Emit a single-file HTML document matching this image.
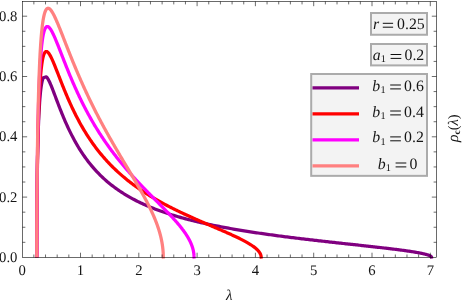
<!DOCTYPE html>
<html><head><meta charset="utf-8"><title>plot</title>
<style>
html,body{margin:0;padding:0;background:#fff;}
svg{display:block;font-family:"Liberation Serif",serif;text-rendering:geometricPrecision;will-change:transform;}
</style></head><body>
<svg width="463" height="303" viewBox="0 0 463 303">
<rect width="463" height="303" fill="#fff"/>
<defs><clipPath id="cp"><rect x="22.20" y="1.50" width="415.30" height="257.30"/></clipPath></defs>
<g clip-path="url(#cp)">
<polyline points="36.64,257.40 36.65,250.30 36.67,239.64 36.70,230.79 36.74,222.03 36.80,213.39 36.86,204.90 36.94,196.56 37.04,188.41 37.14,180.48 37.26,172.77 37.38,165.31 37.52,158.12 37.68,151.20 37.84,144.58 38.02,138.26 38.21,132.25 38.41,126.56 38.62,121.19 38.85,116.15 39.09,111.43 39.34,107.04 39.60,102.97 39.87,99.22 40.16,95.79 40.46,92.67 40.77,89.85 41.09,87.32 41.42,85.08 41.77,83.12 42.13,81.42 42.50,79.98 42.88,78.79 43.27,77.83 46.36,76.78 46.84,77.30 47.34,77.97 47.85,78.77 48.37,79.68 48.91,80.71 49.45,81.83 50.01,83.05 50.58,84.36 51.16,85.74 51.75,87.19 52.35,88.71 52.96,90.28 53.59,91.91 54.22,93.58 54.87,95.29 55.53,97.03 56.20,98.81 56.88,100.61 57.57,102.43 58.27,104.26 58.98,106.11 59.71,107.97 60.44,109.84 61.19,111.71 61.94,113.58 62.71,115.45 63.49,117.32 64.28,119.18 65.07,121.03 65.88,122.87 66.70,124.70 67.53,126.52 68.37,128.32 69.22,130.11 70.08,131.88 70.95,133.64 71.83,135.37 72.72,137.09 73.63,138.79 74.54,140.46 75.46,142.12 76.39,143.76 77.33,145.37 78.28,146.96 79.24,148.53 80.21,150.08 81.19,151.60 82.17,153.11 83.17,154.59 84.18,156.04 85.20,157.48 86.22,158.89 87.26,160.28 88.30,161.65 89.35,162.99 90.41,164.32 91.49,165.62 92.57,166.90 93.65,168.16 94.75,169.40 95.86,170.62 96.97,171.81 98.09,172.99 99.22,174.14 100.36,175.28 101.51,176.40 102.67,177.49 103.83,178.57 105.01,179.63 106.19,180.67 107.37,181.70 108.57,182.70 109.77,183.69 110.99,184.66 112.21,185.62 113.43,186.56 114.67,187.48 115.91,188.38 117.16,189.27 118.41,190.15 119.68,191.01 120.95,191.85 122.22,192.68 123.51,193.50 124.80,194.30 126.10,195.08 127.40,195.86 128.72,196.62 130.03,197.37 131.36,198.11 132.69,198.83 134.03,199.54 135.37,200.24 136.72,200.93 138.07,201.60 139.44,202.27 140.80,202.92 142.18,203.56 143.55,204.20 144.94,204.82 146.33,205.43 147.72,206.03 149.12,206.63 150.53,207.21 151.94,207.78 153.36,208.35 154.78,208.91 156.21,209.45 157.64,209.99 159.07,210.52 160.51,211.04 161.96,211.56 163.41,212.06 164.86,212.56 166.32,213.05 167.78,213.54 169.25,214.01 170.72,214.48 172.19,214.94 173.67,215.40 175.15,215.85 176.64,216.29 178.13,216.72 179.62,217.15 181.12,217.58 182.61,217.99 184.12,218.40 185.62,218.81 187.13,219.21 188.64,219.60 190.16,219.99 191.67,220.37 193.19,220.75 194.72,221.12 196.24,221.49 197.77,221.86 199.30,222.21 200.83,222.57 202.36,222.92 203.90,223.26 205.43,223.60 206.97,223.93 208.51,224.27 210.06,224.59 211.60,224.91 213.15,225.23 214.69,225.55 216.24,225.86 217.79,226.17 219.34,226.47 220.89,226.77 222.44,227.06 223.99,227.36 225.55,227.64 227.10,227.93 228.65,228.21 230.21,228.49 231.76,228.77 233.32,229.04 234.87,229.31 236.43,229.57 237.98,229.84 239.53,230.10 241.09,230.35 242.64,230.61 244.19,230.86 245.75,231.11 247.30,231.36 248.85,231.60 250.40,231.84 251.95,232.08 253.50,232.32 255.04,232.55 256.59,232.78 258.13,233.01 259.67,233.24 261.21,233.46 262.75,233.68 264.29,233.90 265.83,234.12 267.36,234.34 268.89,234.55 270.42,234.76 271.95,234.97 273.47,235.18 274.99,235.38 276.51,235.59 278.03,235.79 279.55,235.99 281.06,236.19 282.57,236.38 284.07,236.58 285.57,236.77 287.07,236.96 288.57,237.15 290.06,237.34 291.55,237.52 293.04,237.71 294.52,237.89 296.00,238.07 297.47,238.25 298.94,238.43 300.41,238.61 301.87,238.78 303.33,238.96 304.78,239.13 306.23,239.30 307.68,239.47 309.12,239.64 310.55,239.81 311.98,239.97 313.41,240.14 314.83,240.30 316.25,240.47 317.66,240.63 319.06,240.79 320.46,240.95 321.86,241.10 323.25,241.26 324.63,241.42 326.01,241.57 327.39,241.72 328.75,241.88 330.11,242.03 331.47,242.18 332.82,242.33 334.16,242.47 335.50,242.62 336.83,242.77 338.15,242.91 339.47,243.06 340.78,243.20 342.09,243.34 343.39,243.49 344.68,243.63 345.96,243.77 347.24,243.91 348.51,244.05 349.77,244.18 351.03,244.32 352.28,244.46 353.52,244.59 354.76,244.73 355.98,244.86 357.20,244.99 358.41,245.12 359.62,245.26 360.81,245.39 362.00,245.52 363.18,245.65 364.35,245.77 365.52,245.90 366.68,246.03 367.82,246.16 368.96,246.28 370.09,246.41 371.22,246.53 372.33,246.66 373.44,246.78 374.53,246.90 375.62,247.03 376.70,247.15 377.77,247.27 378.84,247.39 379.89,247.51 380.93,247.63 381.97,247.75 382.99,247.87 384.01,247.99 385.02,248.11 386.01,248.22 387.00,248.34 387.98,248.46 388.95,248.57 389.91,248.69 390.86,248.80 391.80,248.92 392.73,249.03 393.65,249.14 394.56,249.26 395.46,249.37 396.35,249.48 397.23,249.59 398.11,249.71 398.97,249.82 399.82,249.93 400.66,250.04 401.49,250.15 402.31,250.26 403.11,250.37 403.91,250.48 404.70,250.59 405.48,250.69 406.24,250.80 407.00,250.91 407.75,251.02 408.48,251.12 409.20,251.23 409.92,251.34 410.62,251.44 411.31,251.55 411.99,251.66 412.66,251.76 413.32,251.87 413.96,251.97 414.60,252.07 415.22,252.18 415.84,252.28 416.44,252.39 417.03,252.49 417.61,252.59 418.18,252.70 418.73,252.80 419.28,252.90 419.81,253.00 420.34,253.11 420.85,253.21 421.34,253.31 421.83,253.41 422.31,253.51 422.77,253.62 423.22,253.72 423.67,253.82 424.09,253.92 424.51,254.02 424.92,254.12 425.31,254.22 425.69,254.32 426.06,254.42 426.42,254.52 426.77,254.62 427.10,254.72 427.42,254.82 427.73,254.91 428.03,255.01 428.32,255.11 428.59,255.21 428.85,255.31 429.10,255.41 429.34,255.50 429.56,255.60 429.78,255.70 429.98,255.80 430.17,255.89 430.35,255.99 430.51,256.09 430.66,256.18 430.80,256.28 430.93,256.37 431.05,256.47 431.15,256.56 431.24,256.65 431.32,256.74 431.39,256.82 431.45,256.90 431.49,256.98 431.52,257.04 431.54,257.08 431.54,257.40 431.69,258.70" fill="none" stroke="#800080" stroke-width="3.25" stroke-linejoin="round"/>
<polyline points="36.83,257.40 36.84,245.89 36.85,243.02 36.86,235.70 36.89,228.50 36.92,221.35 36.96,214.27 37.00,207.25 37.06,200.33 37.11,193.49 37.18,186.76 37.25,180.15 37.33,173.65 37.42,167.29 37.51,161.07 37.61,155.00 37.72,149.08 37.84,143.32 37.96,137.73 38.09,132.31 38.22,127.07 38.36,122.00 38.51,117.12 38.67,112.42 38.83,107.91 39.00,103.59 39.18,99.45 39.36,95.51 39.55,91.75 39.74,88.18 39.95,84.80 40.16,81.61 40.37,78.60 40.60,75.77 40.83,73.11 41.07,70.64 41.31,68.33 41.56,66.19 41.82,64.22 42.08,62.41 42.35,60.76 42.63,59.25 42.91,57.90 43.20,56.69 43.50,55.62 43.80,54.69 44.11,53.88 44.43,53.20 44.75,52.65 45.08,52.20 45.41,51.88 45.76,51.65 46.10,51.54 46.46,51.52 46.82,51.59 47.19,51.76 47.56,52.01 47.94,52.34 48.33,52.75 48.72,53.24 49.12,53.79 49.52,54.41 49.94,55.10 50.35,55.84 50.78,56.64 51.21,57.50 51.64,58.40 52.08,59.35 52.53,60.34 52.98,61.38 53.44,62.45 53.91,63.56 54.38,64.70 54.86,65.87 55.34,67.07 55.83,68.30 56.32,69.55 56.83,70.83 57.33,72.12 57.84,73.43 58.36,74.76 58.88,76.10 59.41,77.45 59.95,78.82 60.49,80.20 61.03,81.58 61.58,82.98 62.14,84.38 62.70,85.78 63.27,87.19 63.84,88.60 64.42,90.01 65.00,91.43 65.59,92.84 66.18,94.25 66.78,95.66 67.38,97.07 67.99,98.48 68.60,99.88 69.22,101.28 69.84,102.67 70.47,104.06 71.11,105.44 71.74,106.81 72.39,108.18 73.03,109.54 73.69,110.89 74.34,112.23 75.00,113.57 75.67,114.90 76.34,116.22 77.02,117.52 77.70,118.82 78.38,120.11 79.07,121.39 79.76,122.66 80.46,123.92 81.16,125.17 81.86,126.41 82.57,127.64 83.29,128.86 84.01,130.06 84.73,131.26 85.45,132.44 86.18,133.62 86.92,134.78 87.65,135.94 88.39,137.08 89.14,138.21 89.89,139.33 90.64,140.44 91.40,141.54 92.16,142.62 92.92,143.70 93.69,144.77 94.46,145.82 95.23,146.87 96.01,147.90 96.79,148.92 97.57,149.94 98.36,150.94 99.15,151.93 99.94,152.91 100.73,153.89 101.53,154.85 102.34,155.80 103.14,156.74 103.95,157.67 104.76,158.60 105.57,159.51 106.39,160.41 107.20,161.31 108.03,162.19 108.85,163.07 109.67,163.93 110.50,164.79 111.33,165.64 112.17,166.48 113.00,167.31 113.84,168.13 114.68,168.94 115.52,169.74 116.37,170.54 117.21,171.33 118.06,172.11 118.91,172.88 119.76,173.64 120.61,174.40 121.47,175.15 122.33,175.89 123.19,176.62 124.05,177.34 124.91,178.06 125.77,178.77 126.64,179.47 127.50,180.17 128.37,180.86 129.24,181.54 130.11,182.22 130.98,182.88 131.85,183.55 132.73,184.20 133.60,184.85 134.47,185.49 135.35,186.13 136.23,186.76 137.11,187.38 137.98,188.00 138.86,188.61 139.74,189.22 140.62,189.82 141.51,190.41 142.39,191.00 143.27,191.58 144.15,192.16 145.03,192.73 145.92,193.30 146.80,193.86 147.68,194.42 148.57,194.97 149.45,195.51 150.33,196.05 151.21,196.59 152.10,197.12 152.98,197.65 153.86,198.17 154.75,198.69 155.63,199.20 156.51,199.71 157.39,200.21 158.27,200.71 159.15,201.21 160.03,201.70 160.91,202.18 161.79,202.67 162.66,203.14 163.54,203.62 164.41,204.09 165.29,204.56 166.16,205.02 167.03,205.48 167.91,205.93 168.78,206.38 169.64,206.83 170.51,207.27 171.38,207.71 172.24,208.15 173.11,208.59 173.97,209.02 174.83,209.44 175.69,209.87 176.54,210.29 177.40,210.70 178.25,211.12 179.10,211.53 179.95,211.93 180.80,212.34 181.65,212.74 182.49,213.14 183.33,213.54 184.17,213.93 185.01,214.32 185.85,214.71 186.68,215.09 187.51,215.47 188.34,215.85 189.17,216.23 189.99,216.60 190.81,216.97 191.63,217.34 192.44,217.71 193.26,218.07 194.07,218.43 194.87,218.79 195.68,219.15 196.48,219.50 197.28,219.85 198.07,220.20 198.87,220.55 199.66,220.90 200.44,221.24 201.23,221.58 202.01,221.92 202.78,222.26 203.56,222.59 204.33,222.93 205.09,223.26 205.86,223.59 206.62,223.91 207.37,224.24 208.12,224.56 208.87,224.88 209.62,225.20 210.36,225.52 211.10,225.84 211.83,226.15 212.56,226.46 213.29,226.77 214.01,227.08 214.73,227.39 215.44,227.70 216.15,228.00 216.86,228.30 217.56,228.60 218.25,228.90 218.95,229.20 219.63,229.50 220.32,229.79 221.00,230.09 221.67,230.38 222.34,230.67 223.01,230.96 223.67,231.25 224.33,231.53 224.98,231.82 225.63,232.10 226.27,232.39 226.91,232.67 227.54,232.95 228.17,233.23 228.79,233.50 229.41,233.78 230.02,234.06 230.63,234.33 231.24,234.60 231.83,234.88 232.43,235.15 233.01,235.42 233.60,235.69 234.18,235.95 234.75,236.22 235.31,236.49 235.88,236.75 236.43,237.01 236.98,237.28 237.53,237.54 238.07,237.80 238.60,238.06 239.13,238.32 239.65,238.57 240.17,238.83 240.68,239.09 241.19,239.34 241.69,239.60 242.18,239.85 242.67,240.10 243.16,240.36 243.63,240.61 244.10,240.86 244.57,241.11 245.03,241.36 245.48,241.60 245.93,241.85 246.37,242.10 246.81,242.35 247.24,242.59 247.66,242.84 248.08,243.08 248.49,243.32 248.89,243.57 249.29,243.81 249.69,244.05 250.07,244.29 250.45,244.53 250.83,244.77 251.19,245.01 251.55,245.25 251.91,245.49 252.26,245.72 252.60,245.96 252.93,246.20 253.26,246.43 253.59,246.67 253.90,246.90 254.21,247.14 254.52,247.37 254.81,247.61 255.10,247.84 255.39,248.07 255.66,248.31 255.93,248.54 256.20,248.77 256.45,249.00 256.70,249.23 256.95,249.46 257.18,249.69 257.42,249.92 257.64,250.15 257.86,250.38 258.07,250.61 258.27,250.84 258.47,251.07 258.66,251.30 258.84,251.52 259.01,251.75 259.18,251.98 259.35,252.21 259.50,252.43 259.65,252.66 259.79,252.89 259.93,253.11 260.06,253.34 260.18,253.56 260.29,253.79 260.40,254.01 260.50,254.24 260.59,254.46 260.68,254.69 260.76,254.91 260.83,255.14 260.90,255.36 260.96,255.58 261.01,255.80 261.06,256.03 261.09,256.25 261.12,256.46 261.15,256.68 261.17,256.88 261.18,257.07 261.18,257.40 261.33,258.70" fill="none" stroke="#ff0000" stroke-width="3.25" stroke-linejoin="round"/>
<polyline points="36.82,257.40 36.82,243.06 36.83,244.42 36.84,237.81 36.86,231.26 36.88,224.76 36.91,218.29 36.94,211.88 36.98,205.51 37.02,199.20 37.06,192.96 37.11,186.79 37.17,180.69 37.23,174.68 37.30,168.75 37.37,162.92 37.44,157.19 37.52,151.56 37.61,146.04 37.70,140.63 37.79,135.33 37.89,130.15 38.00,125.10 38.11,120.17 38.22,115.37 38.34,110.70 38.46,106.16 38.59,101.75 38.72,97.48 38.86,93.34 39.00,89.34 39.15,85.47 39.30,81.75 39.46,78.16 39.62,74.70 39.79,71.39 39.96,68.20 40.13,65.16 40.31,62.24 40.50,59.46 40.69,56.81 40.88,54.29 41.08,51.89 41.28,49.62 41.49,47.48 41.70,45.45 41.92,43.54 42.14,41.75 42.37,40.08 42.60,38.52 42.83,37.06 43.07,35.71 43.32,34.47 43.57,33.33 43.82,32.28 44.08,31.34 44.34,30.48 44.60,29.72 44.88,29.05 45.15,28.46 45.43,27.95 45.71,27.53 46.00,27.18 46.29,26.91 46.59,26.71 46.89,26.58 47.20,26.52 47.51,26.53 47.82,26.59 48.14,26.72 48.46,26.91 48.79,27.15 49.12,27.45 49.45,27.80 49.79,28.20 50.13,28.64 50.48,29.13 50.83,29.67 51.18,30.25 51.54,30.86 51.91,31.52 52.27,32.21 52.64,32.94 53.02,33.70 53.40,34.49 53.78,35.31 54.16,36.16 54.55,37.04 54.95,37.94 55.34,38.87 55.75,39.82 56.15,40.79 56.56,41.78 56.97,42.79 57.39,43.82 57.81,44.87 58.23,45.93 58.65,47.01 59.08,48.10 59.52,49.21 59.95,50.33 60.39,51.45 60.84,52.59 61.29,53.74 61.74,54.90 62.19,56.06 62.65,57.24 63.11,58.41 63.57,59.60 64.04,60.79 64.51,61.98 64.98,63.18 65.46,64.39 65.94,65.59 66.42,66.80 66.90,68.01 67.39,69.22 67.88,70.44 68.38,71.65 68.87,72.86 69.38,74.08 69.88,75.29 70.38,76.50 70.89,77.71 71.40,78.92 71.92,80.13 72.44,81.34 72.95,82.54 73.48,83.74 74.00,84.94 74.53,86.13 75.06,87.32 75.59,88.51 76.13,89.69 76.66,90.87 77.20,92.05 77.74,93.22 78.29,94.39 78.84,95.55 79.38,96.70 79.94,97.86 80.49,99.00 81.04,100.14 81.60,101.28 82.16,102.41 82.72,103.54 83.29,104.66 83.85,105.77 84.42,106.88 84.99,107.98 85.56,109.08 86.14,110.17 86.71,111.25 87.29,112.33 87.87,113.40 88.45,114.47 89.03,115.53 89.61,116.58 90.20,117.63 90.79,118.67 91.38,119.71 91.97,120.74 92.56,121.76 93.15,122.78 93.74,123.79 94.34,124.79 94.94,125.79 95.53,126.78 96.13,127.76 96.73,128.74 97.34,129.72 97.94,130.68 98.54,131.64 99.15,132.60 99.75,133.54 100.36,134.48 100.97,135.42 101.58,136.35 102.19,137.27 102.80,138.19 103.41,139.10 104.02,140.01 104.63,140.90 105.25,141.80 105.86,142.68 106.48,143.57 107.09,144.44 107.71,145.31 108.32,146.17 108.94,147.03 109.56,147.89 110.17,148.73 110.79,149.57 111.41,150.41 112.03,151.24 112.65,152.06 113.27,152.88 113.88,153.70 114.50,154.50 115.12,155.31 115.74,156.11 116.36,156.90 116.98,157.69 117.60,158.47 118.22,159.24 118.84,160.02 119.45,160.78 120.07,161.55 120.69,162.30 121.31,163.05 121.92,163.80 122.54,164.54 123.16,165.28 123.77,166.02 124.39,166.74 125.00,167.47 125.62,168.19 126.23,168.90 126.84,169.61 127.45,170.32 128.07,171.02 128.68,171.72 129.29,172.41 129.89,173.10 130.50,173.78 131.11,174.46 131.72,175.14 132.32,175.81 132.93,176.48 133.53,177.14 134.13,177.80 134.73,178.46 135.33,179.11 135.93,179.76 136.52,180.40 137.12,181.04 137.71,181.68 138.31,182.31 138.90,182.94 139.49,183.57 140.08,184.19 140.66,184.81 141.25,185.42 141.83,186.03 142.42,186.64 143.00,187.25 143.58,187.85 144.15,188.45 144.73,189.04 145.30,189.63 145.87,190.22 146.44,190.81 147.01,191.39 147.58,191.97 148.14,192.55 148.70,193.12 149.26,193.69 149.82,194.26 150.37,194.82 150.93,195.38 151.48,195.94 152.03,196.50 152.58,197.05 153.12,197.60 153.66,198.15 154.20,198.69 154.74,199.23 155.27,199.77 155.81,200.31 156.34,200.84 156.86,201.37 157.39,201.90 157.91,202.43 158.43,202.96 158.95,203.48 159.46,204.00 159.97,204.51 160.48,205.03 160.99,205.54 161.49,206.05 161.99,206.56 162.49,207.06 162.98,207.57 163.47,208.07 163.96,208.57 164.45,209.07 164.93,209.56 165.41,210.05 165.88,210.55 166.36,211.03 166.83,211.52 167.29,212.01 167.76,212.49 168.22,212.97 168.67,213.45 169.13,213.93 169.58,214.40 170.03,214.88 170.47,215.35 170.91,215.82 171.35,216.29 171.78,216.76 172.21,217.22 172.64,217.68 173.06,218.15 173.48,218.61 173.89,219.07 174.31,219.52 174.71,219.98 175.12,220.43 175.52,220.89 175.92,221.34 176.31,221.79 176.70,222.23 177.09,222.68 177.47,223.13 177.85,223.57 178.22,224.01 178.59,224.45 178.96,224.89 179.32,225.33 179.68,225.77 180.03,226.21 180.38,226.64 180.73,227.07 181.07,227.51 181.41,227.94 181.75,228.37 182.08,228.80 182.40,229.23 182.73,229.65 183.04,230.08 183.36,230.50 183.67,230.93 183.97,231.35 184.27,231.77 184.57,232.19 184.86,232.61 185.15,233.03 185.43,233.45 185.71,233.86 185.99,234.28 186.26,234.69 186.53,235.11 186.79,235.52 187.05,235.93 187.30,236.34 187.55,236.76 187.79,237.17 188.03,237.57 188.27,237.98 188.50,238.39 188.72,238.80 188.94,239.20 189.16,239.61 189.37,240.01 189.58,240.42 189.79,240.82 189.98,241.22 190.18,241.63 190.37,242.03 190.55,242.43 190.73,242.83 190.91,243.23 191.08,243.63 191.24,244.03 191.41,244.43 191.56,244.82 191.71,245.22 191.86,245.62 192.00,246.02 192.14,246.41 192.27,246.81 192.40,247.20 192.53,247.60 192.65,247.99 192.76,248.39 192.87,248.78 192.97,249.17 193.07,249.57 193.17,249.96 193.26,250.35 193.34,250.74 193.42,251.13 193.50,251.53 193.57,251.92 193.63,252.31 193.69,252.70 193.75,253.09 193.80,253.48 193.85,253.87 193.89,254.26 193.93,254.65 193.96,255.03 193.98,255.42 194.01,255.80 194.02,256.18 194.03,256.54 194.04,256.87 194.04,257.40 194.19,258.70" fill="none" stroke="#ff00ff" stroke-width="3.25" stroke-linejoin="round"/>
<polyline points="36.78,257.40 36.79,253.96 36.79,244.21 36.80,238.95 36.82,232.75 36.83,226.60 36.85,220.48 36.88,214.39 36.91,208.35 36.94,202.34 36.98,196.39 37.02,190.49 37.07,184.64 37.11,178.86 37.17,173.14 37.22,167.50 37.28,161.92 37.35,156.43 37.42,151.02 37.49,145.69 37.57,140.45 37.65,135.30 37.73,130.25 37.82,125.29 37.91,120.44 38.01,115.68 38.10,111.03 38.21,106.48 38.31,102.04 38.43,97.71 38.54,93.48 38.66,89.37 38.78,85.37 38.91,81.48 39.04,77.70 39.17,74.04 39.31,70.48 39.45,67.04 39.59,63.71 39.74,60.50 39.90,57.39 40.05,54.40 40.21,51.51 40.37,48.74 40.54,46.07 40.71,43.51 40.89,41.05 41.07,38.70 41.25,36.45 41.43,34.30 41.62,32.26 41.82,30.31 42.01,28.46 42.21,26.70 42.42,25.03 42.62,23.46 42.83,21.98 43.05,20.58 43.27,19.27 43.49,18.05 43.71,16.91 43.94,15.84 44.17,14.86 44.41,13.95 44.65,13.12 44.89,12.36 45.13,11.67 45.38,11.05 45.64,10.50 45.89,10.01 46.15,9.58 46.41,9.22 46.68,8.92 46.95,8.67 47.22,8.48 47.50,8.34 47.78,8.26 48.06,8.23 48.34,8.25 48.63,8.31 48.92,8.43 49.22,8.58 49.52,8.78 49.82,9.03 50.12,9.31 50.43,9.63 50.74,9.99 51.05,10.38 51.37,10.81 51.69,11.28 52.01,11.77 52.34,12.30 52.67,12.86 53.00,13.44 53.33,14.06 53.67,14.70 54.01,15.36 54.35,16.05 54.70,16.77 55.05,17.50 55.40,18.26 55.75,19.04 56.11,19.83 56.47,20.65 56.83,21.48 57.20,22.34 57.57,23.20 57.94,24.09 58.31,24.99 58.68,25.90 59.06,26.82 59.44,27.76 59.83,28.71 60.21,29.68 60.60,30.65 60.99,31.63 61.38,32.63 61.78,33.63 62.18,34.64 62.58,35.66 62.98,36.69 63.38,37.72 63.79,38.76 64.20,39.81 64.61,40.86 65.03,41.92 65.44,42.98 65.86,44.05 66.28,45.12 66.70,46.20 67.13,47.28 67.55,48.36 67.98,49.45 68.41,50.54 68.84,51.63 69.28,52.72 69.71,53.82 70.15,54.91 70.59,56.01 71.03,57.11 71.48,58.21 71.92,59.31 72.37,60.41 72.82,61.51 73.27,62.61 73.72,63.71 74.17,64.81 74.63,65.91 75.09,67.00 75.54,68.10 76.00,69.20 76.47,70.29 76.93,71.38 77.39,72.47 77.86,73.56 78.33,74.65 78.79,75.74 79.26,76.82 79.74,77.90 80.21,78.98 80.68,80.06 81.16,81.14 81.63,82.21 82.11,83.28 82.59,84.34 83.07,85.41 83.55,86.47 84.03,87.53 84.51,88.58 84.99,89.63 85.48,90.68 85.96,91.73 86.45,92.77 86.94,93.81 87.42,94.85 87.91,95.88 88.40,96.91 88.89,97.94 89.38,98.96 89.87,99.98 90.37,100.99 90.86,102.00 91.35,103.01 91.84,104.02 92.34,105.02 92.83,106.02 93.33,107.01 93.82,108.00 94.32,108.99 94.82,109.97 95.31,110.95 95.81,111.92 96.31,112.89 96.80,113.86 97.30,114.83 97.80,115.79 98.30,116.74 98.79,117.70 99.29,118.64 99.79,119.59 100.29,120.53 100.79,121.47 101.28,122.40 101.78,123.33 102.28,124.26 102.78,125.18 103.27,126.10 103.77,127.02 104.27,127.93 104.77,128.83 105.26,129.74 105.76,130.64 106.25,131.54 106.75,132.43 107.25,133.32 107.74,134.20 108.23,135.09 108.73,135.96 109.22,136.84 109.71,137.71 110.20,138.58 110.70,139.44 111.19,140.30 111.68,141.16 112.17,142.02 112.65,142.87 113.14,143.71 113.63,144.56 114.11,145.40 114.60,146.23 115.08,147.07 115.57,147.90 116.05,148.72 116.53,149.55 117.01,150.37 117.49,151.18 117.97,152.00 118.45,152.81 118.92,153.61 119.40,154.42 119.87,155.22 120.34,156.02 120.81,156.81 121.28,157.60 121.75,158.39 122.22,159.18 122.68,159.96 123.15,160.74 123.61,161.52 124.07,162.29 124.53,163.06 124.99,163.83 125.45,164.59 125.90,165.36 126.36,166.11 126.81,166.87 127.26,167.62 127.71,168.38 128.16,169.12 128.60,169.87 129.04,170.61 129.49,171.35 129.93,172.09 130.36,172.82 130.80,173.56 131.23,174.28 131.67,175.01 132.10,175.74 132.53,176.46 132.95,177.18 133.38,177.89 133.80,178.61 134.22,179.32 134.64,180.03 135.05,180.74 135.47,181.44 135.88,182.15 136.29,182.85 136.69,183.54 137.10,184.24 137.50,184.93 137.90,185.63 138.30,186.32 138.69,187.00 139.09,187.69 139.48,188.37 139.87,189.05 140.25,189.73 140.64,190.41 141.02,191.08 141.39,191.75 141.77,192.42 142.14,193.09 142.51,193.76 142.88,194.42 143.25,195.09 143.61,195.75 143.97,196.41 144.32,197.06 144.68,197.72 145.03,198.37 145.38,199.02 145.73,199.67 146.07,200.32 146.41,200.97 146.75,201.61 147.08,202.26 147.41,202.90 147.74,203.54 148.07,204.18 148.39,204.81 148.71,205.45 149.02,206.08 149.34,206.72 149.65,207.35 149.96,207.98 150.26,208.60 150.56,209.23 150.86,209.85 151.16,210.48 151.45,211.10 151.74,211.72 152.02,212.34 152.30,212.96 152.58,213.57 152.86,214.19 153.13,214.80 153.40,215.42 153.67,216.03 153.93,216.64 154.19,217.25 154.44,217.85 154.69,218.46 154.94,219.07 155.19,219.67 155.43,220.28 155.67,220.88 155.91,221.48 156.14,222.08 156.37,222.68 156.59,223.28 156.81,223.87 157.03,224.47 157.24,225.06 157.46,225.66 157.66,226.25 157.87,226.84 158.07,227.44 158.26,228.03 158.46,228.62 158.64,229.21 158.83,229.79 159.01,230.38 159.19,230.97 159.37,231.55 159.54,232.14 159.70,232.72 159.87,233.31 160.03,233.89 160.18,234.47 160.34,235.05 160.48,235.63 160.63,236.21 160.77,236.79 160.91,237.37 161.04,237.95 161.17,238.53 161.30,239.11 161.42,239.68 161.54,240.26 161.65,240.84 161.76,241.41 161.87,241.99 161.97,242.56 162.07,243.13 162.17,243.71 162.26,244.28 162.35,244.85 162.43,245.43 162.51,246.00 162.59,246.57 162.66,247.14 162.73,247.71 162.79,248.28 162.85,248.85 162.91,249.42 162.96,249.99 163.01,250.56 163.06,251.13 163.10,251.70 163.14,252.27 163.17,252.84 163.20,253.41 163.22,253.97 163.25,254.54 163.26,255.10 163.28,255.67 163.29,256.25 163.29,256.75 163.29,257.40 163.44,258.70" fill="none" stroke="#ff8080" stroke-width="3.25" stroke-linejoin="round"/>
</g>
<g stroke="#000" stroke-width="0.58" fill="none">
<rect x="22.45" y="1.50" width="414.05" height="255.90"/>
<line x1="33.86" y1="257.40" x2="33.86" y2="254.50"/>
<line x1="33.86" y1="1.50" x2="33.86" y2="4.40"/>
<line x1="45.52" y1="257.40" x2="45.52" y2="254.50"/>
<line x1="45.52" y1="1.50" x2="45.52" y2="4.40"/>
<line x1="57.18" y1="257.40" x2="57.18" y2="254.50"/>
<line x1="57.18" y1="1.50" x2="57.18" y2="4.40"/>
<line x1="68.84" y1="257.40" x2="68.84" y2="254.50"/>
<line x1="68.84" y1="1.50" x2="68.84" y2="4.40"/>
<line x1="80.50" y1="257.40" x2="80.50" y2="252.70"/>
<line x1="80.50" y1="1.50" x2="80.50" y2="6.20"/>
<line x1="92.16" y1="257.40" x2="92.16" y2="254.50"/>
<line x1="92.16" y1="1.50" x2="92.16" y2="4.40"/>
<line x1="103.82" y1="257.40" x2="103.82" y2="254.50"/>
<line x1="103.82" y1="1.50" x2="103.82" y2="4.40"/>
<line x1="115.48" y1="257.40" x2="115.48" y2="254.50"/>
<line x1="115.48" y1="1.50" x2="115.48" y2="4.40"/>
<line x1="127.14" y1="257.40" x2="127.14" y2="254.50"/>
<line x1="127.14" y1="1.50" x2="127.14" y2="4.40"/>
<line x1="138.80" y1="257.40" x2="138.80" y2="252.70"/>
<line x1="138.80" y1="1.50" x2="138.80" y2="6.20"/>
<line x1="150.46" y1="257.40" x2="150.46" y2="254.50"/>
<line x1="150.46" y1="1.50" x2="150.46" y2="4.40"/>
<line x1="162.12" y1="257.40" x2="162.12" y2="254.50"/>
<line x1="162.12" y1="1.50" x2="162.12" y2="4.40"/>
<line x1="173.78" y1="257.40" x2="173.78" y2="254.50"/>
<line x1="173.78" y1="1.50" x2="173.78" y2="4.40"/>
<line x1="185.44" y1="257.40" x2="185.44" y2="254.50"/>
<line x1="185.44" y1="1.50" x2="185.44" y2="4.40"/>
<line x1="197.10" y1="257.40" x2="197.10" y2="252.70"/>
<line x1="197.10" y1="1.50" x2="197.10" y2="6.20"/>
<line x1="208.76" y1="257.40" x2="208.76" y2="254.50"/>
<line x1="208.76" y1="1.50" x2="208.76" y2="4.40"/>
<line x1="220.42" y1="257.40" x2="220.42" y2="254.50"/>
<line x1="220.42" y1="1.50" x2="220.42" y2="4.40"/>
<line x1="232.08" y1="257.40" x2="232.08" y2="254.50"/>
<line x1="232.08" y1="1.50" x2="232.08" y2="4.40"/>
<line x1="243.74" y1="257.40" x2="243.74" y2="254.50"/>
<line x1="243.74" y1="1.50" x2="243.74" y2="4.40"/>
<line x1="255.40" y1="257.40" x2="255.40" y2="252.70"/>
<line x1="255.40" y1="1.50" x2="255.40" y2="6.20"/>
<line x1="267.06" y1="257.40" x2="267.06" y2="254.50"/>
<line x1="267.06" y1="1.50" x2="267.06" y2="4.40"/>
<line x1="278.72" y1="257.40" x2="278.72" y2="254.50"/>
<line x1="278.72" y1="1.50" x2="278.72" y2="4.40"/>
<line x1="290.38" y1="257.40" x2="290.38" y2="254.50"/>
<line x1="290.38" y1="1.50" x2="290.38" y2="4.40"/>
<line x1="302.04" y1="257.40" x2="302.04" y2="254.50"/>
<line x1="302.04" y1="1.50" x2="302.04" y2="4.40"/>
<line x1="313.70" y1="257.40" x2="313.70" y2="252.70"/>
<line x1="313.70" y1="1.50" x2="313.70" y2="6.20"/>
<line x1="325.36" y1="257.40" x2="325.36" y2="254.50"/>
<line x1="325.36" y1="1.50" x2="325.36" y2="4.40"/>
<line x1="337.02" y1="257.40" x2="337.02" y2="254.50"/>
<line x1="337.02" y1="1.50" x2="337.02" y2="4.40"/>
<line x1="348.68" y1="257.40" x2="348.68" y2="254.50"/>
<line x1="348.68" y1="1.50" x2="348.68" y2="4.40"/>
<line x1="360.34" y1="257.40" x2="360.34" y2="254.50"/>
<line x1="360.34" y1="1.50" x2="360.34" y2="4.40"/>
<line x1="372.00" y1="257.40" x2="372.00" y2="252.70"/>
<line x1="372.00" y1="1.50" x2="372.00" y2="6.20"/>
<line x1="383.66" y1="257.40" x2="383.66" y2="254.50"/>
<line x1="383.66" y1="1.50" x2="383.66" y2="4.40"/>
<line x1="395.32" y1="257.40" x2="395.32" y2="254.50"/>
<line x1="395.32" y1="1.50" x2="395.32" y2="4.40"/>
<line x1="406.98" y1="257.40" x2="406.98" y2="254.50"/>
<line x1="406.98" y1="1.50" x2="406.98" y2="4.40"/>
<line x1="418.64" y1="257.40" x2="418.64" y2="254.50"/>
<line x1="418.64" y1="1.50" x2="418.64" y2="4.40"/>
<line x1="430.30" y1="257.40" x2="430.30" y2="252.70"/>
<line x1="430.30" y1="1.50" x2="430.30" y2="6.20"/>
<line x1="22.45" y1="242.32" x2="25.35" y2="242.32"/>
<line x1="436.50" y1="242.32" x2="433.60" y2="242.32"/>
<line x1="22.45" y1="227.25" x2="25.35" y2="227.25"/>
<line x1="436.50" y1="227.25" x2="433.60" y2="227.25"/>
<line x1="22.45" y1="212.17" x2="25.35" y2="212.17"/>
<line x1="436.50" y1="212.17" x2="433.60" y2="212.17"/>
<line x1="22.45" y1="197.10" x2="27.15" y2="197.10"/>
<line x1="436.50" y1="197.10" x2="431.80" y2="197.10"/>
<line x1="22.45" y1="182.02" x2="25.35" y2="182.02"/>
<line x1="436.50" y1="182.02" x2="433.60" y2="182.02"/>
<line x1="22.45" y1="166.95" x2="25.35" y2="166.95"/>
<line x1="436.50" y1="166.95" x2="433.60" y2="166.95"/>
<line x1="22.45" y1="151.87" x2="25.35" y2="151.87"/>
<line x1="436.50" y1="151.87" x2="433.60" y2="151.87"/>
<line x1="22.45" y1="136.80" x2="27.15" y2="136.80"/>
<line x1="436.50" y1="136.80" x2="431.80" y2="136.80"/>
<line x1="22.45" y1="121.72" x2="25.35" y2="121.72"/>
<line x1="436.50" y1="121.72" x2="433.60" y2="121.72"/>
<line x1="22.45" y1="106.65" x2="25.35" y2="106.65"/>
<line x1="436.50" y1="106.65" x2="433.60" y2="106.65"/>
<line x1="22.45" y1="91.57" x2="25.35" y2="91.57"/>
<line x1="436.50" y1="91.57" x2="433.60" y2="91.57"/>
<line x1="22.45" y1="76.50" x2="27.15" y2="76.50"/>
<line x1="436.50" y1="76.50" x2="431.80" y2="76.50"/>
<line x1="22.45" y1="61.42" x2="25.35" y2="61.42"/>
<line x1="436.50" y1="61.42" x2="433.60" y2="61.42"/>
<line x1="22.45" y1="46.35" x2="25.35" y2="46.35"/>
<line x1="436.50" y1="46.35" x2="433.60" y2="46.35"/>
<line x1="22.45" y1="31.27" x2="25.35" y2="31.27"/>
<line x1="436.50" y1="31.27" x2="433.60" y2="31.27"/>
<line x1="22.45" y1="16.20" x2="27.15" y2="16.20"/>
<line x1="436.50" y1="16.20" x2="431.80" y2="16.20"/>
</g>
<g fill="#151515">
<text x="22.20" y="274.90" text-anchor="middle" font-size="14.7">0</text>
<text x="80.50" y="274.90" text-anchor="middle" font-size="14.7">1</text>
<text x="138.80" y="274.90" text-anchor="middle" font-size="14.7">2</text>
<text x="197.10" y="274.90" text-anchor="middle" font-size="14.7">3</text>
<text x="255.40" y="274.90" text-anchor="middle" font-size="14.7">4</text>
<text x="313.70" y="274.90" text-anchor="middle" font-size="14.7">5</text>
<text x="372.00" y="274.90" text-anchor="middle" font-size="14.7">6</text>
<text x="430.30" y="274.90" text-anchor="middle" font-size="14.7">7</text>
<text x="17.40" y="261.90" text-anchor="end" font-size="14.7">0.0</text>
<text x="17.40" y="201.60" text-anchor="end" font-size="14.7">0.2</text>
<text x="17.40" y="141.30" text-anchor="end" font-size="14.7">0.4</text>
<text x="17.40" y="81.00" text-anchor="end" font-size="14.7">0.6</text>
<text x="17.40" y="20.70" text-anchor="end" font-size="14.7">0.8</text>
<text x="229.3" y="299.8" text-anchor="middle" font-size="15" font-style="italic">λ</text>
<text transform="translate(458.4,128.2) rotate(-90)" text-anchor="middle" font-size="14.5"><tspan font-style="italic" font-size="15.5">ρ</tspan><tspan font-size="9.5" font-weight="bold" dy="1.6">c</tspan><tspan dy="-1.6">(</tspan><tspan font-style="italic">λ</tspan>)</text>
</g>
<rect x="371.00" y="13.00" width="56.00" height="21.75" fill="#f3f3f3" stroke="#ababab" stroke-width="2.00"/>
<rect x="371.00" y="44.00" width="56.00" height="21.40" fill="#f3f3f3" stroke="#ababab" stroke-width="2.00"/>
<rect x="311.20" y="74.00" width="115.80" height="101.85" fill="#f3f3f3" stroke="#ababab" stroke-width="2.00"/>
<g fill="#151515">
<text x="373.00" y="28.80" font-size="15.8" font-style="italic">r</text>
<line x1="382.80" y1="23.30" x2="393.10" y2="23.30" stroke="#000" stroke-width="0.95"/>
<line x1="382.80" y1="27.20" x2="393.10" y2="27.20" stroke="#000" stroke-width="0.95"/>
<text x="397.10" y="28.80" font-size="15.8">0.25</text>
<text x="372.70" y="60.00" font-size="15.8" font-style="italic">a</text>
<text x="380.80" y="62.40" font-size="10.3">1</text>
<line x1="390.60" y1="54.50" x2="401.30" y2="54.50" stroke="#000" stroke-width="0.95"/>
<line x1="390.60" y1="58.40" x2="401.30" y2="58.40" stroke="#000" stroke-width="0.95"/>
<text x="404.50" y="60.00" font-size="15.8">0.2</text>
<line x1="312.5" y1="87.90" x2="359.0" y2="87.90" stroke="#800080" stroke-width="3.25"/>
<text x="372.30" y="90.50" font-size="15.8" font-style="italic">b</text>
<text x="380.40" y="92.90" font-size="10.3">1</text>
<line x1="390.20" y1="85.00" x2="400.90" y2="85.00" stroke="#000" stroke-width="0.95"/>
<line x1="390.20" y1="88.90" x2="400.90" y2="88.90" stroke="#000" stroke-width="0.95"/>
<text x="404.10" y="90.50" font-size="15.8">0.6</text>
<line x1="312.5" y1="113.90" x2="359.0" y2="113.90" stroke="#ff0000" stroke-width="3.25"/>
<text x="372.30" y="116.50" font-size="15.8" font-style="italic">b</text>
<text x="380.40" y="118.90" font-size="10.3">1</text>
<line x1="390.20" y1="111.00" x2="400.90" y2="111.00" stroke="#000" stroke-width="0.95"/>
<line x1="390.20" y1="114.90" x2="400.90" y2="114.90" stroke="#000" stroke-width="0.95"/>
<text x="404.10" y="116.50" font-size="15.8">0.4</text>
<line x1="312.5" y1="139.80" x2="359.0" y2="139.80" stroke="#ff00ff" stroke-width="3.25"/>
<text x="372.30" y="142.40" font-size="15.8" font-style="italic">b</text>
<text x="380.40" y="144.80" font-size="10.3">1</text>
<line x1="390.20" y1="136.90" x2="400.90" y2="136.90" stroke="#000" stroke-width="0.95"/>
<line x1="390.20" y1="140.80" x2="400.90" y2="140.80" stroke="#000" stroke-width="0.95"/>
<text x="404.10" y="142.40" font-size="15.8">0.2</text>
<line x1="312.5" y1="165.90" x2="359.0" y2="165.90" stroke="#ff8080" stroke-width="3.25"/>
<text x="377.70" y="168.50" font-size="15.8" font-style="italic">b</text>
<text x="385.80" y="170.90" font-size="10.3">1</text>
<line x1="395.60" y1="163.00" x2="406.30" y2="163.00" stroke="#000" stroke-width="0.95"/>
<line x1="395.60" y1="166.90" x2="406.30" y2="166.90" stroke="#000" stroke-width="0.95"/>
<text x="409.50" y="168.50" font-size="15.8">0</text>
</g>

</svg>
</body></html>
